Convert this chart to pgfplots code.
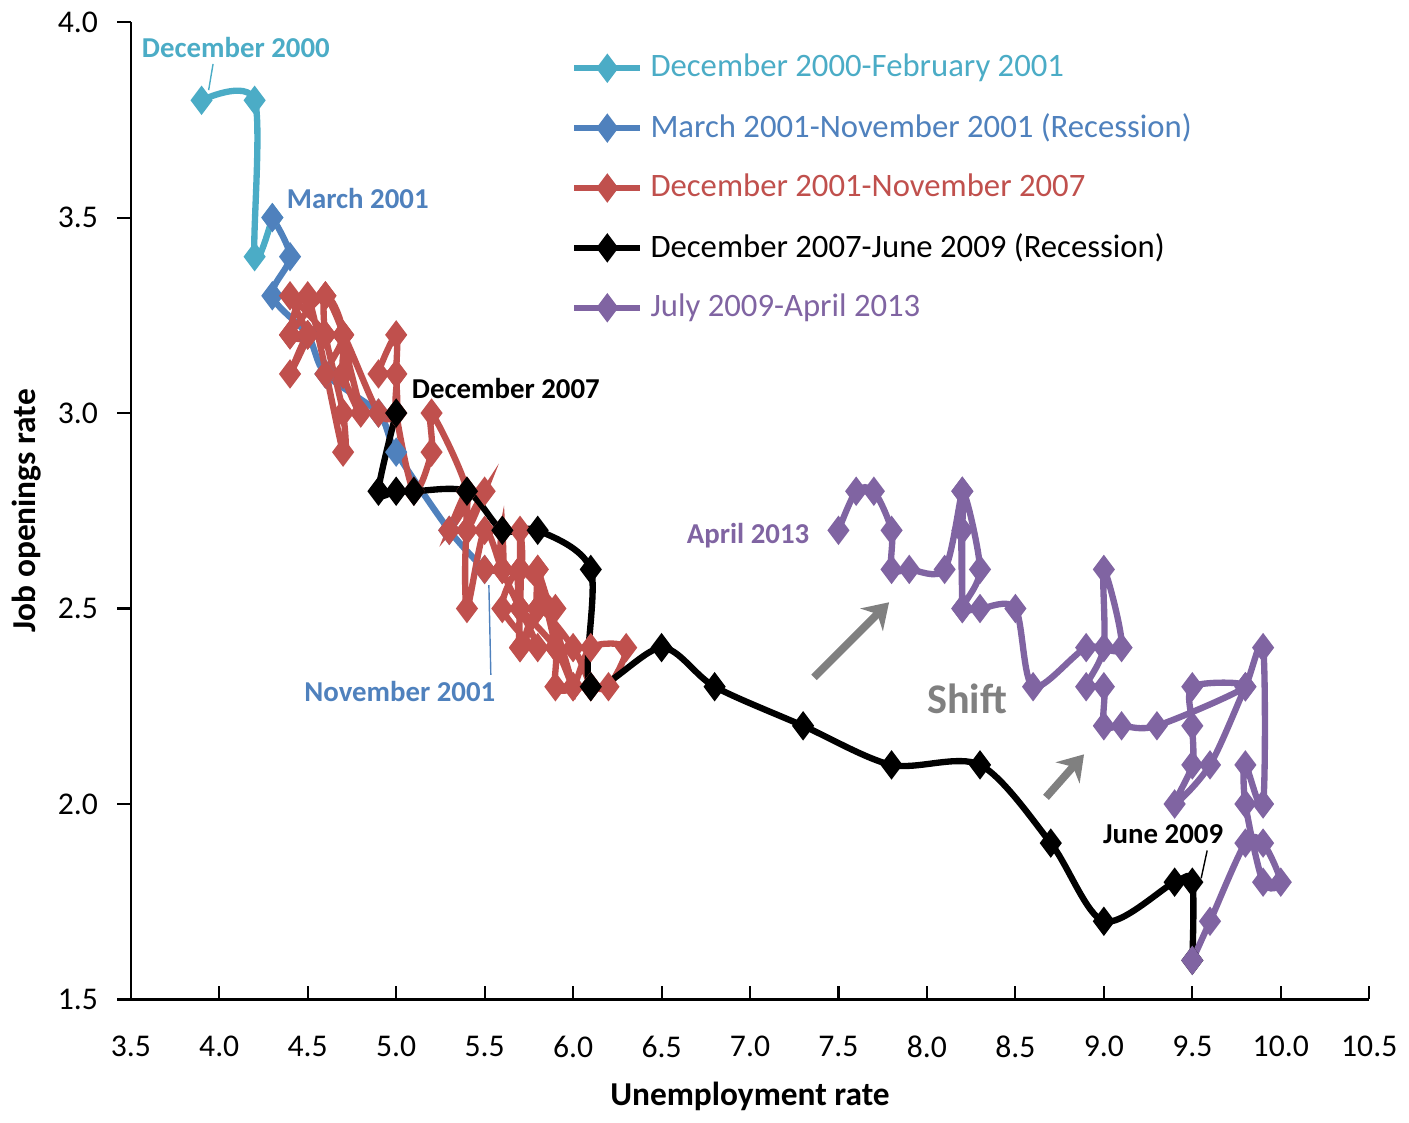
\documentclass[border=0pt]{standalone}
\usepackage{pgfplots}
\pgfplotsset{compat=1.18}
\usepackage{fontspec}
\setmainfont{Carlito}
\usetikzlibrary{arrows.meta}

\definecolor{cCyan}{RGB}{75,172,198}
\definecolor{cBlue}{RGB}{79,129,189}
\definecolor{cRed}{RGB}{192,80,77}
\definecolor{cPurple}{RGB}{128,100,162}
\definecolor{cGray}{RGB}{128,128,128}

\begin{document}
\begin{tikzpicture}[lab/.style={font=\bfseries\fontsize{8.2}{10}\selectfont}]
\begin{axis}[
    scale only axis,
    width=12.38cm, height=9.77cm,
    xmin=3.5, xmax=10.5, ymin=1.5, ymax=4.0,
    xtick={3.5,4.0,...,10.5},
    ytick={1.5,2.0,...,4.0},
    axis x line*=bottom, axis y line*=left,
    axis line style={-, semithick},
    tick align=outside,
    major tick length=3.8pt,
    tick style={semithick, black},
    xtick style={yshift=3.8pt},
    xticklabel style={yshift=-3pt, /pgf/number format/.cd, fixed, fixed zerofill, precision=1, assume math mode=true},
    yticklabel style={xshift=-2pt, /pgf/number format/.cd, fixed, fixed zerofill, precision=1, assume math mode=true},
    ticklabel style={font=\fontsize{9}{10}\selectfont},
    xlabel={\textbf{Unemployment rate}},
    ylabel={\textbf{Job openings rate}},
    label style={font=\fontsize{9.5}{11}\selectfont},
    xlabel style={yshift=0pt},
    ylabel style={yshift=-2pt},
    clip=false,
    every axis plot/.append style={line width=1.8pt, smooth, tension=0.5,
        mark=diamond*, mark size=2.7pt, mark options={solid}},
    legend style={draw=none, fill=none, at={(0.355,0.975)}, anchor=north west,
        font=\fontsize{9.3}{11}\selectfont, row sep=4.9pt, inner sep=0pt},
    legend cell align=left,
    legend image code/.code={\draw[mark repeat=2,mark phase=2] plot coordinates {(0cm,0cm) (0.33cm,0cm) (0.66cm,0cm)};},
]
% December 2000 - February 2001
\addplot[cCyan, mark options={fill=cCyan}] coordinates {
(3.9,3.8) (4.2,3.8) (4.2,3.4) (4.3,3.5)};
\addlegendentry{\textcolor{cCyan}{December 2000-February 2001}}
% March 2001 - November 2001
\addplot[cBlue, mark options={fill=cBlue}] coordinates {
(4.3,3.5) (4.4,3.4) (4.3,3.3) (4.5,3.2) (4.6,3.1) (4.9,3.0) (5.0,2.9) (5.3,2.7) (5.5,2.6)};
\addlegendentry{\textcolor{cBlue}{March 2001-November 2001 (Recession)}}
% December 2001 - November 2007
\addplot[cRed, mark options={fill=cRed}] coordinates {
(5.5,2.6) (5.7,2.6)
(5.7,2.7) (5.7,2.5) (5.7,2.6) (5.9,2.5) (5.8,2.5) (5.8,2.6) (5.8,2.5) (5.7,2.4) (5.7,2.5) (5.7,2.5) (5.9,2.4) (6.0,2.3)
(5.8,2.6) (5.9,2.4) (5.9,2.3) (6.0,2.3) (6.1,2.4) (6.3,2.4) (6.2,2.3) (6.1,2.3) (6.1,2.3) (6.0,2.4) (5.8,2.5) (5.7,2.4)
(5.7,2.6) (5.6,2.5) (5.8,2.4) (5.6,2.6) (5.6,2.7) (5.6,2.6) (5.5,2.7) (5.4,2.5) (5.4,2.7) (5.5,2.8) (5.4,2.7) (5.4,2.8)
(5.3,2.7) (5.4,2.8) (5.2,3.0) (5.2,2.9) (5.1,2.8) (5.0,3.0) (5.0,3.1) (4.9,3.1) (5.0,3.2) (5.0,3.1) (5.0,3.0) (4.9,3.0)
(4.7,3.2) (4.8,3.0) (4.7,3.1) (4.7,3.2) (4.6,3.3) (4.6,3.2) (4.7,3.0) (4.7,2.9) (4.5,3.3) (4.4,3.2) (4.5,3.2) (4.4,3.3)
(4.6,3.2) (4.5,3.2) (4.4,3.1) (4.5,3.2) (4.4,3.2) (4.6,3.3) (4.7,3.2) (4.6,3.1) (4.7,3.1) (4.7,3.2) (4.7,3.1)};
\addlegendentry{\textcolor{cRed}{December 2001-November 2007}}
% December 2007 - June 2009
\addplot[black, mark options={fill=black}] coordinates {
(5.0,3.0) (4.9,2.8) (5.0,2.8) (5.1,2.8) (5.4,2.8) (5.6,2.7) (5.8,2.7) (6.1,2.6) (6.1,2.3) (6.5,2.4)
(6.8,2.3) (7.3,2.2) (7.8,2.1) (8.3,2.1) (8.7,1.9) (9.0,1.7) (9.4,1.8) (9.5,1.8) (9.5,1.6)};
\addlegendentry{\textcolor{black}{December 2007-June 2009 (Recession)}}
% July 2009 - April 2013
\addplot[cPurple, mark options={fill=cPurple}] coordinates {
(9.5,1.6) (9.6,1.7) (9.8,1.9) (9.9,1.9) (10.0,1.8) (9.9,1.8) (9.8,2.0) (9.8,2.1) (9.9,2.0) (9.9,2.4)
(9.8,2.3) (9.6,2.1) (9.4,2.0) (9.5,2.1) (9.5,2.2) (9.5,2.3) (9.8,2.3) (9.3,2.2) (9.1,2.2) (9.0,2.2)
(9.0,2.3) (8.9,2.3) (9.0,2.4) (9.0,2.6) (9.1,2.4) (8.9,2.4) (8.6,2.3) (8.5,2.5) (8.3,2.5) (8.2,2.5)
(8.3,2.6) (8.2,2.8) (8.2,2.5) (8.2,2.7) (8.2,2.8) (8.1,2.6) (7.9,2.6) (7.8,2.6) (7.8,2.7) (7.7,2.8)
(7.6,2.8) (7.5,2.7)};
\addlegendentry{\textcolor{cPurple}{July 2009-April 2013}}

% annotations
\node[lab, text=cCyan] at (axis cs:4.094,3.936) {December 2000};
\draw[cCyan, thin] (axis cs:3.94,3.826) -- (axis cs:3.965,3.893);
\node[lab, text=cBlue] at (axis cs:4.783,3.550) {March 2001};
\node[lab, text=black] at (axis cs:5.62,3.063) {December 2007};
\node[lab, text=cBlue] at (axis cs:5.021,2.288) {November 2001};
\draw[cBlue, thin] (axis cs:5.524,2.56) -- (axis cs:5.535,2.33);
\node[lab, text=cPurple] at (axis cs:6.989,2.687) {April 2013};
\node[text=cGray, font=\bfseries\fontsize{12}{14}\selectfont] at (axis cs:8.227,2.268) {Shift};
\node[lab, text=black] at (axis cs:9.335,1.922) {June 2009};
\draw[black, thin] (axis cs:9.55,1.81) -- (axis cs:9.584,1.881);
\draw[cGray, line width=2.2pt, -{Stealth[length=7pt,width=9pt]}] (axis cs:7.362,2.324) -- (axis cs:7.786,2.516);
\draw[cGray, line width=2.2pt, -{Stealth[length=7pt,width=9pt]}] (axis cs:8.673,2.017) -- (axis cs:8.888,2.127);
\end{axis}
\end{tikzpicture}
\end{document}
